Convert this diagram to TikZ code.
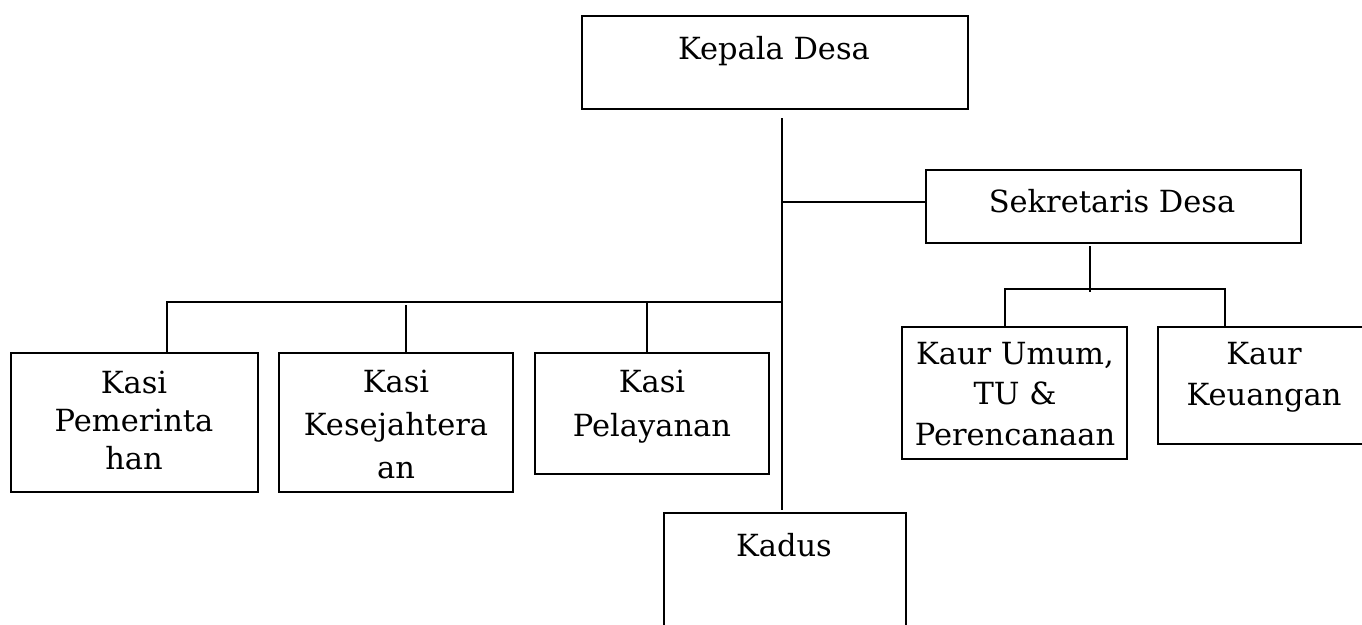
\documentclass[tikz,border=0pt]{standalone}
\usepackage{fontspec}
\setmainfont{DejaVu Serif}
\newcommand\mlines[2]{\fontsize{30.5}{#1}\selectfont\begin{tabular}[t]{@{}c@{}}#2\end{tabular}}
\begin{document}
\begin{tikzpicture}[x=1pt,y=-1pt,
  box/.style={draw=black,line width=2pt,rectangle,inner sep=0pt,anchor=north west},
  lbl/.style={inner sep=0pt,anchor=base,font=\fontsize{30.5}{36}\selectfont},
  conn/.style={draw=black,line width=2pt}]
\useasboundingbox (0,0) rectangle (1362,624);
% boxes
\node[box,minimum width=386pt,minimum height=93pt] (kd) at (581,15) {};
\node[box,minimum width=375pt,minimum height=73pt] (sek) at (925,169) {};
\node[box,minimum width=247pt,minimum height=139pt] (pem) at (10,352) {};
\node[box,minimum width=234pt,minimum height=139pt] (kes) at (278,352) {};
\node[box,minimum width=234pt,minimum height=121pt] (pel) at (534,352) {};
\node[box,minimum width=225pt,minimum height=132pt] (ku) at (901,326) {};
\node[box,minimum width=214pt,minimum height=117pt] (kk) at (1157,326) {};
\node[box,minimum width=242pt,minimum height=140pt] (kad) at (663,512) {};
% texts
\node[lbl] (kdt) at (774,59) {Kepala Desa};
\node[lbl] (sekt) at (1112,212) {Sekretaris Desa};
\node[lbl] (pemt) at (134,393) {\mlines{38}{Kasi\\Pemerinta\\han}};
\node[lbl] (kest) at (396,392) {\mlines{43}{Kasi\\Kesejahtera\\an}};
\node[lbl] (pelt) at (652,392) {\mlines{44}{Kasi\\Pelayanan}};
\node[lbl] (kut) at (1015,364) {\mlines{40.5}{Kaur Umum,\\TU \&\\Perencanaan}};
\node[lbl] (kkt) at (1264,364) {\mlines{41}{Kaur\\Keuangan}};
\node[lbl] (kadt) at (784,556) {Kadus};
% junctions
\coordinate (j1) at (782,118);
\coordinate (j2) at (782,202);
\coordinate (j3) at (782,302);
\coordinate (j4) at (782,510);
\coordinate (b1) at (167,302);
\coordinate (b2) at (406,305);
\coordinate (b3) at (647,302);
\coordinate (s1) at (1090,246);
\coordinate (s2) at (1090,292);
\coordinate (k1) at (1005,289);
\coordinate (k2) at (1225,289);
% connectors
\draw[conn] (j1) -- (j4);
\draw[conn] (j2) -- (j2 -| sek.west);
\draw[conn] (j3) -- (b1) -- (b1 |- pem.north);
\draw[conn] (b2) -- (b2 |- kes.north);
\draw[conn] (b3) -- (b3 |- pel.north);
\draw[conn] (s1) -- (s2);
\draw[conn] (k1 |- ku.north) -- (k1) -- (k2) -- (k2 |- kk.north);
\end{tikzpicture}
\end{document}
